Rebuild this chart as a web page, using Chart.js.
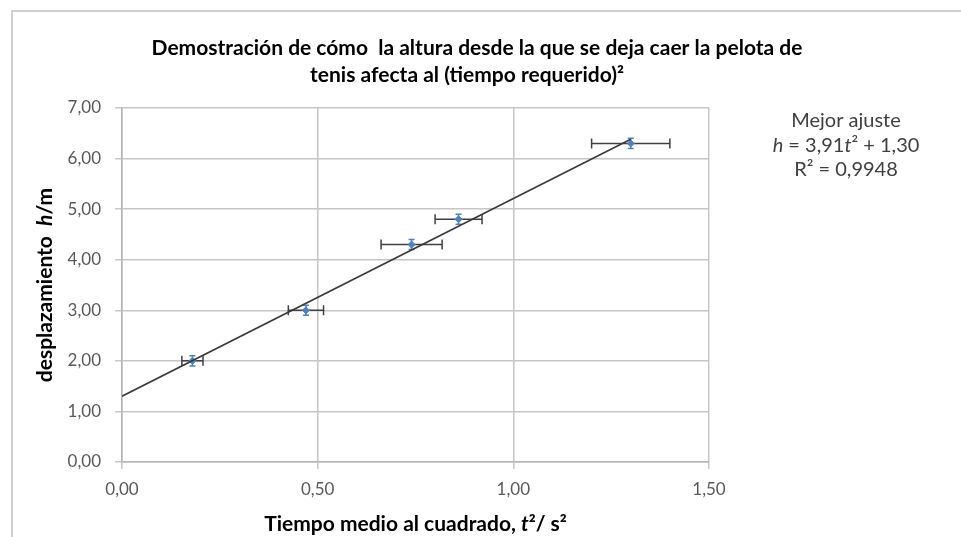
<!DOCTYPE html>
<html>
<head>
<meta charset="utf-8">
<script src="https://cdn.jsdelivr.net/npm/chart.js@4/dist/chart.umd.min.js"></script>
<style>
  html, body { margin: 0; padding: 0; background: #ffffff; }
  #marco { width: 961px; height: 537px; position: relative; }
</style>
</head>
<body>
<div id="marco"><canvas id="grafico"></canvas></div>
<script>
// Medidas: tiempo medio al cuadrado (s²) y altura de caída (m)
const tiempoCuadrado = [0.18, 0.47, 0.74, 0.86, 1.30];
const altura = [2.00, 3.00, 4.30, 4.80, 6.30];
// Incertidumbres de cada medida
const errorTiempo = [0.027, 0.045, 0.078, 0.060, 0.100];
const errorAltura = [0.10, 0.10, 0.10, 0.10, 0.10];
// Recta de mejor ajuste h = m·t² + b
const pendiente = 3.91;
const ordenada = 1.30;
const r2 = 0.9948;
const tramoAjuste = [0, 1.30];
// Escalas
const ejeX = { min: 0, max: 1.5, paso: 0.5 };
const ejeY = { min: 0, max: 7, paso: 1 };

const FUENTE = 'Lato, "Open Sans", "DejaVu Sans", sans-serif';
const coma = v => v.toFixed(2).replace('.', ',');

const puntos = tiempoCuadrado.map((t, i) => ({ x: t, y: altura[i] }));
const recta = tramoAjuste.map(t => ({ x: t, y: pendiente * t + ordenada }));

// Dibuja trozos de texto con estilos distintos en una misma línea
function textoMixto(ctx, trozos, x, y, alinear) {
  let ancho = 0;
  trozos.forEach(p => { ctx.font = p.f; ancho += ctx.measureText(p.t).width; });
  let cx = alinear === 'center' ? x - ancho / 2 : x;
  ctx.textAlign = 'left';
  trozos.forEach(p => {
    ctx.font = p.f;
    ctx.fillText(p.t, cx, y + (p.dy || 0));
    cx += ctx.measureText(p.t).width;
  });
}

const decoracion = {
  id: 'decoracion',
  beforeDraw(chart) {
    const ctx = chart.ctx;
    ctx.save();
    // borde del área del gráfico
    ctx.strokeStyle = '#cfcfcf';
    ctx.lineWidth = 2;
    ctx.beginPath();
    ctx.moveTo(12, 540);
    ctx.lineTo(12, 11);
    ctx.lineTo(965, 11);
    ctx.stroke();
    ctx.restore();
  },
  beforeDatasetsDraw(chart) {
    const ctx = chart.ctx;
    const sx = chart.scales.x, sy = chart.scales.y;
    ctx.save();
    // barras de error horizontales
    ctx.strokeStyle = '#404040';
    ctx.lineWidth = 1.5;
    tiempoCuadrado.forEach((t, i) => {
      const y = sy.getPixelForValue(altura[i]);
      const x1 = sx.getPixelForValue(t - errorTiempo[i]);
      const x2 = sx.getPixelForValue(t + errorTiempo[i]);
      ctx.beginPath();
      ctx.moveTo(x1, y); ctx.lineTo(x2, y);
      ctx.moveTo(x1, y - 5); ctx.lineTo(x1, y + 5);
      ctx.moveTo(x2, y - 5); ctx.lineTo(x2, y + 5);
      ctx.stroke();
    });
    // barras de error verticales
    ctx.strokeStyle = '#4F81BD';
    tiempoCuadrado.forEach((t, i) => {
      const x = sx.getPixelForValue(t);
      const y1 = sy.getPixelForValue(altura[i] - errorAltura[i]);
      const y2 = sy.getPixelForValue(altura[i] + errorAltura[i]);
      ctx.beginPath();
      ctx.moveTo(x, y1); ctx.lineTo(x, y2);
      ctx.moveTo(x - 3, y1); ctx.lineTo(x + 3, y1);
      ctx.moveTo(x - 3, y2); ctx.lineTo(x + 3, y2);
      ctx.stroke();
    });
    ctx.restore();
  },
  afterDraw(chart) {
    const ctx = chart.ctx;
    const area = chart.chartArea;
    ctx.save();
    ctx.textBaseline = 'middle';
    // título
    ctx.fillStyle = '#000000';
    ctx.textAlign = 'center';
    ctx.font = 'bold 21px ' + FUENTE;
    ctx.fillText('Demostración de cómo  la altura desde la que se deja caer la pelota de', 477, 48);
    ctx.fillText('tenis afecta al (tiempo requerido)²', 467, 75);

    // título del eje Y
    ctx.save();
    ctx.translate(45, (area.top + area.bottom) / 2);
    ctx.rotate(-Math.PI / 2);
    textoMixto(ctx, [
      { t: 'desplazamiento  ', f: 'bold 21px ' + FUENTE },
      { t: 'h', f: 'italic bold 21px ' + FUENTE },
      { t: '/m', f: 'bold 21px ' + FUENTE }
    ], 0, 0, 'center');
    ctx.restore();

    // título del eje X
    textoMixto(ctx, [
      { t: 'Tiempo medio al cuadrado, ', f: 'bold 21px ' + FUENTE },
      { t: 't', f: 'italic bold 21px ' + FUENTE },
      { t: '²/ s²', f: 'bold 21px ' + FUENTE }
    ], (area.left + area.right) / 2, 524, 'center');

    // ecuación del ajuste
    ctx.fillStyle = '#404040';
    textoMixto(ctx, [{ t: 'Mejor ajuste', f: '20px ' + FUENTE }], 846, 121, 'center');
    textoMixto(ctx, [
      { t: 'h', f: 'italic 20px ' + FUENTE },
      { t: ' = ' + pendiente.toFixed(2).replace('.', ','), f: '20px ' + FUENTE },
      { t: 't', f: 'italic 20px ' + FUENTE },
      { t: '² + ' + ordenada.toFixed(2).replace('.', ','), f: '20px ' + FUENTE }
    ], 846, 146, 'center');
    textoMixto(ctx, [{ t: 'R² = ' + r2.toFixed(4).replace('.', ','), f: '20px ' + FUENTE }], 846, 170, 'center');
    ctx.restore();
  }
};

new Chart(document.getElementById('grafico'), {
  type: 'scatter',
  data: {
    datasets: [
      {
        label: 'Medidas',
        data: puntos,
        pointStyle: 'rectRot',
        pointRadius: 3.5,
        pointBackgroundColor: '#4F81BD',
        pointBorderColor: '#4F81BD',
        order: 1
      },
      {
        label: 'Ajuste',
        type: 'line',
        data: recta,
        borderColor: '#3a3a3a',
        borderWidth: 1.6,
        pointRadius: 0,
        fill: false,
        order: 0
      }
    ]
  },
  options: {
    responsive: true,
    maintainAspectRatio: false,
    animation: false,
    layout: { padding: { top: 108, right: 252, bottom: 0, left: 0 } },
    plugins: {
      legend: { display: false },
      title: { display: false },
      tooltip: { enabled: false }
    },
    scales: {
      x: {
        type: 'linear',
        min: ejeX.min, max: ejeX.max,
        afterFit: s => { s.height = 75; },
        ticks: {
          stepSize: ejeX.paso,
          callback: v => coma(v),
          color: '#595959',
          font: { family: FUENTE, size: 17 },
          padding: 10,
          maxRotation: 0
        },
        grid: { color: '#c6c6c6', lineWidth: 1.5, tickLength: 7, tickColor: '#c6c6c6' },
        border: { color: '#b5b5b5', width: 1.5 }
      },
      y: {
        type: 'linear',
        min: ejeY.min, max: ejeY.max,
        afterFit: s => { s.width = 122; },
        ticks: {
          stepSize: ejeY.paso,
          callback: v => coma(v),
          color: '#595959',
          font: { family: FUENTE, size: 17 },
          padding: 14
        },
        grid: { color: '#c6c6c6', lineWidth: 1.5, tickLength: 7, tickColor: '#c6c6c6' },
        border: { color: '#b5b5b5', width: 1.5 }
      }
    }
  },
  plugins: [decoracion]
});
</script>
</body>
</html>
